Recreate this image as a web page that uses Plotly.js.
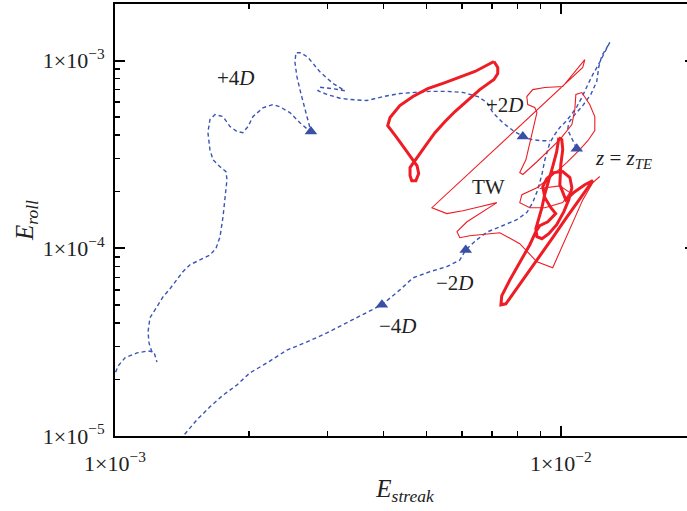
<!DOCTYPE html>
<html><head><meta charset="utf-8">
<script src="https://cdn.plot.ly/plotly-3.0.1.min.js"></script>
<style>html,body{margin:0;padding:0;overflow:hidden;background:#fff}#chart{width:700px;height:511px}</style>
</head><body><div id="chart"></div>
<script>
// Blue dashed trajectory: short hook at far left
const blueHookX = [9.9e-4, 1.016e-3, 1.053e-3, 1.12e-3, 1.186e-3, 1.223e-3, 1.242e-3];
const blueHookY = [2.02e-5, 2.36e-5, 2.61e-5, 2.77e-5, 2.84e-5, 2.80e-5, 2.48e-5];
// Blue dashed trajectory: left wander -> +4D -> +2D
const blueUpperX = [1.21e-3, 1.192e-3, 1.186e-3, 1.198e-3, 1.242e-3, 1.281e-3, 1.328e-3, 1.377e-3, 1.42e-3, 1.473e-3, 1.551e-3, 1.633e-3, 1.685e-3, 1.72e-3, 1.747e-3, 1.765e-3, 1.783e-3, 1.774e-3, 1.72e-3, 1.659e-3, 1.633e-3, 1.616e-3, 1.633e-3, 1.676e-3, 1.747e-3, 1.811e-3, 1.877e-3, 1.936e-3, 1.988e-3, 2.04e-3, 2.147e-3, 2.262e-3, 2.344e-3, 2.468e-3, 2.599e-3, 2.723e-3, 2.751e-3, 2.695e-3, 2.64e-3, 2.599e-3, 2.559e-3, 2.533e-3, 2.546e-3, 2.612e-3, 2.709e-3, 2.882e-3, 3.082e-3, 3.28e-3, 3.082e-3, 2.882e-3, 2.853e-3, 2.987e-3, 3.196e-3, 3.364e-3, 3.673e-3, 3.99e-3, 4.355e-3, 4.706e-3, 5.086e-3, 5.55e-3, 6.03e-3, 6.52e-3, 6.83e-3, 7.04e-3, 7.41e-3, 7.81e-3, 8.22e-3, 8.61e-3, 9.07e-3, 9.45e-3];
const blueUpperY = [2.80e-5, 3.13e-5, 3.59e-5, 4.27e-5, 4.88e-5, 5.5e-5, 6.08e-5, 6.8e-5, 7.5e-5, 8.17e-5, 8.65e-5, 9.2e-5, 1.0e-4, 1.15e-4, 1.47e-4, 1.81e-4, 2.32e-4, 2.56e-4, 2.72e-4, 2.96e-4, 3.35e-4, 4.14e-4, 4.85e-4, 5.15e-4, 5.03e-4, 4.45e-4, 4.19e-4, 4.13e-4, 4.45e-4, 5.03e-4, 5.6e-4, 5.83e-4, 5.67e-4, 5.28e-4, 4.66e-4, 4.24e-4, 4.19e-4, 5.03e-4, 5.98e-4, 7.0e-4, 8.2e-4, 9.8e-4, 1.10e-3, 1.10e-3, 1.04e-3, 8.7e-4, 7.55e-4, 6.9e-4, 7.08e-4, 7.2e-4, 6.9e-4, 6.6e-4, 6.3e-4, 6.2e-4, 6.12e-4, 6.42e-4, 6.67e-4, 6.76e-4, 6.85e-4, 6.85e-4, 6.76e-4, 6.42e-4, 5.98e-4, 5.28e-4, 4.66e-4, 4.24e-4, 3.94e-4, 3.79e-4, 3.74e-4, 3.74e-4];
// Blue dashed trajectory: bottom -> -4D -> -2D -> top right -> z = z_TE
const blueMainX = [1.406e-3, 1.435e-3, 1.527e-3, 1.633e-3, 1.747e-3, 1.877e-3, 2.008e-3, 2.192e-3, 2.431e-3, 2.695e-3, 2.987e-3, 3.313e-3, 3.673e-3, 3.97e-3, 4.355e-3, 4.66e-3, 5.086e-3, 5.55e-3, 5.935e-3, 6.12e-3, 6.48e-3, 6.83e-3, 7.30e-3, 7.97e-3, 8.39e-3, 8.65e-3, 8.88e-3, 9.07e-3, 9.21e-3, 9.45e-3, 9.69e-3, 9.95e-3, 1.026e-2, 1.053e-2, 1.086e-2, 1.115e-2, 1.15e-2, 1.18e-2, 1.223e-2, 1.255e-2, 1.288e-2, 1.268e-2, 1.236e-2, 1.217e-2, 1.204e-2, 1.168e-2, 1.12e-2, 1.075e-2, 1.042e-2, 1.036e-2, 1.059e-2, 1.086e-2];
const blueMainY = [9.5e-6, 1.025e-5, 1.22e-5, 1.43e-5, 1.65e-5, 1.87e-5, 2.17e-5, 2.45e-5, 2.87e-5, 3.17e-5, 3.54e-5, 4.0e-5, 4.53e-5, 5.0e-5, 6.0e-5, 6.96e-5, 7.5e-5, 7.98e-5, 8.65e-5, 9.8e-5, 1.11e-4, 1.22e-4, 1.30e-4, 1.42e-4, 1.55e-4, 1.75e-4, 2.05e-4, 2.47e-4, 2.96e-4, 3.65e-4, 4.03e-4, 4.4e-4, 4.73e-4, 5.1e-4, 5.67e-4, 6.36e-4, 7.45e-4, 8.43e-4, 9.8e-4, 1.117e-3, 1.25e-3, 1.17e-3, 1.06e-3, 9.27e-4, 7.73e-4, 6.6e-4, 5.75e-4, 5.15e-4, 4.67e-4, 4.28e-4, 3.84e-4, 3.39e-4];
// Stations marked with triangles
const stationX = [2.751e-3, 8.22e-3, 1.086e-2, 6.12e-3, 3.97e-3];
const stationY = [4.19e-4, 3.94e-4, 3.39e-4, 9.8e-5, 5.0e-5];
// Red thick loop (upper left)
const redThickAX = [7.08e-3, 7.22e-3, 7.22e-3, 7.08e-3, 6.58e-3, 6.16e-3, 5.79e-3, 5.50e-3, 5.22e-3, 5.01e-3, 4.83e-3, 4.68e-3, 4.59e-3, 4.59e-3, 4.63e-3, 4.73e-3, 4.80e-3, 4.76e-3, 4.61e-3, 4.45e-3, 4.27e-3, 4.09e-3, 4.14e-3, 4.355e-3, 4.66e-3, 5.03e-3, 5.50e-3, 5.935e-3, 6.42e-3, 7.08e-3];
const redThickAY = [9.88e-4, 9.18e-4, 8.53e-4, 7.92e-4, 7.0e-4, 6.12e-4, 5.35e-4, 4.73e-4, 4.13e-4, 3.61e-4, 3.19e-4, 2.89e-4, 2.69e-4, 2.44e-4, 2.29e-4, 2.29e-4, 2.50e-4, 2.75e-4, 3.04e-4, 3.44e-4, 3.93e-4, 4.5e-4, 4.97e-4, 5.75e-4, 6.43e-4, 7.09e-4, 7.63e-4, 8.12e-4, 8.74e-4, 9.88e-4];
// Red thick loop (lower right)
const redThickBX = [9.90e-3, 9.79e-3, 9.59e-3, 9.40e-3, 9.21e-3, 9.07e-3, 8.93e-3, 8.79e-3, 8.84e-3, 9.07e-3, 9.40e-3, 9.79e-3, 1.016e-2, 1.042e-2, 1.059e-2, 1.048e-2, 1.010e-2, 9.64e-3, 9.30e-3, 9.11e-3, 9.21e-3, 9.50e-3, 9.74e-3, 9.35e-3, 8.97e-3, 8.79e-3, 8.52e-3, 8.09e-3, 7.69e-3, 7.37e-3, 7.34e-3, 7.53e-3, 7.93e-3, 8.43e-3, 8.97e-3, 9.59e-3, 1.026e-2, 1.092e-2, 1.15e-2, 1.18e-2, 1.132e-2, 1.075e-2, 1.026e-2, 9.95e-3, 1.0e-2, 1.010e-2, 1.005e-2, 9.90e-3];
const redThickBY = [3.88e-4, 3.27e-4, 2.72e-4, 2.32e-4, 1.95e-4, 1.644e-4, 1.42e-4, 1.27e-4, 1.152e-4, 1.124e-4, 1.195e-4, 1.335e-4, 1.566e-4, 1.81e-4, 2.10e-4, 2.38e-4, 2.56e-4, 2.53e-4, 2.35e-4, 2.13e-4, 1.86e-4, 1.644e-4, 1.53e-4, 1.384e-4, 1.318e-4, 1.225e-4, 1.044e-4, 8.47e-5, 6.79e-5, 5.58e-5, 5.0e-5, 5.06e-5, 6.0e-5, 7.40e-5, 9.12e-5, 1.138e-4, 1.437e-4, 1.77e-4, 2.10e-4, 2.29e-4, 2.18e-4, 2.0e-4, 1.81e-4, 2.18e-4, 2.79e-4, 3.35e-4, 3.79e-4, 3.88e-4];
// Red thin line (TW)
const redThinX = [1.223e-2, 1.18e-2, 1.12e-2, 1.059e-2, 1.005e-2, 9.59e-3, 8.84e-3, 8.09e-3, 7.30e-3, 6.25e-3, 5.935e-3, 5.85e-3, 6.16e-3, 7.19e-3, 6.58e-3, 6.03e-3, 5.55e-3, 5.14e-3, 1.12e-2, 1.132e-2, 1.010e-2, 9.21e-3, 8.65e-3, 8.39e-3, 8.43e-3, 8.74e-3, 8.84e-3, 8.61e-3, 8.35e-3, 8.09e-3, 8.22e-3, 8.84e-3, 9.45e-3, 9.95e-3, 1.059e-2, 1.075e-2, 1.081e-2, 1.115e-2, 1.161e-2, 1.192e-2, 1.192e-2, 1.15e-2, 1.103e-2, 1.031e-2, 9.45e-3, 8.84e-3, 8.18e-3, 8.09e-3, 8.52e-3, 9.21e-3, 1.010e-2, 1.048e-2, 9.95e-3, 8.97e-3];
const redThinY = [2.41e-4, 2.24e-4, 1.81e-4, 1.335e-4, 1.006e-4, 7.87e-5, 8.47e-5, 1.057e-4, 1.21e-4, 1.166e-4, 1.138e-4, 1.225e-4, 1.384e-4, 1.75e-4, 1.665e-4, 1.585e-4, 1.53e-4, 1.644e-4, 9.18e-4, 1.012e-3, 7.27e-4, 7.18e-4, 7.0e-4, 6.43e-4, 5.83e-4, 5.62e-4, 5.28e-4, 4.03e-4, 2.96e-4, 2.53e-4, 2.47e-4, 2.89e-4, 3.35e-4, 3.79e-4, 4.56e-4, 5.48e-4, 6.59e-4, 6.75e-4, 5.83e-4, 5.03e-4, 4.23e-4, 3.74e-4, 3.35e-4, 2.86e-4, 2.38e-4, 2.10e-4, 1.93e-4, 1.75e-4, 1.644e-4, 1.644e-4, 1.75e-4, 1.98e-4, 2.15e-4, 2.08e-4];
// Ticks
const xTickVals = [1e-3, 1e-2];
const xTickText = ['1\u00d710<sup>\u22123</sup>', '1\u00d710<sup>\u22122</sup>'];
const xMinorVals = [2e-3, 3e-3, 4e-3, 5e-3, 6e-3, 7e-3, 8e-3, 9e-3, 2e-2];
const yTickVals = [1e-5, 1e-4, 1e-3];
const yTickText = ['1\u00d710<sup>\u22125</sup>', '1\u00d710<sup>\u22124</sup>', '1\u00d710<sup>\u22123</sup>'];
const yMinorVals = [2e-5, 3e-5, 4e-5, 5e-5, 6e-5, 7e-5, 8e-5, 9e-5, 2e-4, 3e-4, 4e-4, 5e-4, 6e-4, 7e-4, 8e-4, 9e-4, 2e-3];
// Labels
const labelText = ['+4<i>D</i>', '+2<i>D</i>', '<i>z</i> = <i>z</i><sub><i>TE</i></sub>', 'TW', '\u22122<i>D</i>', '\u22124<i>D</i>'];
const labelX = [1.87e-3, 7.5e-3, 1.18e-2, 6.9e-3, 5.8e-3, 4.31e-3];
const labelY = [8.1e-4, 5.8e-4, 3.0e-4, 2.13e-4, 6.5e-5, 3.85e-5];

const BLUE = '#3a55b4', RED = '#ee1c24', SERIF = 'Liberation Serif, Times New Roman, serif';
const blueLine = {color: BLUE, width: 1.4, dash: '4px,3px'};
const traces = [
  {x: blueHookX, y: blueHookY, mode: 'lines', line: blueLine},
  {x: blueUpperX, y: blueUpperY, mode: 'lines', line: blueLine},
  {x: blueMainX, y: blueMainY, mode: 'lines', line: blueLine},
  {x: redThinX, y: redThinY, mode: 'lines', line: {color: RED, width: 1.1}},
  {x: redThickAX, y: redThickAY, mode: 'lines', line: {color: RED, width: 3}},
  {x: redThickBX, y: redThickBY, mode: 'lines', line: {color: RED, width: 3}},
  {x: stationX, y: stationY, mode: 'markers', marker: {symbol: 'triangle-up', size: 11, color: '#3a4fa6'}}
];
const axisCommon = {
  type: 'log', showgrid: false, zeroline: false, showline: true, linewidth: 2, linecolor: '#000',
  mirror: 'ticks', ticks: 'inside', ticklen: 10, tickwidth: 2, tickcolor: '#000', tickmode: 'array',
  tickfont: {family: SERIF, size: 22, color: '#222'},
  minor: {ticks: 'inside', ticklen: 5, tickwidth: 1.5, tickcolor: '#000', showgrid: false, tickmode: 'array'}
};
const layout = {
  width: 700, height: 511, showlegend: false,
  margin: {l: 115, r: 5, t: 4, b: 75},
  paper_bgcolor: '#fff', plot_bgcolor: '#fff',
  xaxis: Object.assign({}, axisCommon, {
    range: [-3, Math.log10(0.02)], tickvals: xTickVals, ticktext: xTickText, ticklabelstandoff: 7,
    minor: Object.assign({}, axisCommon.minor, {tickvals: xMinorVals}),
    title: {text: '<i>E</i><sub><i>streak</i></sub>', font: {family: SERIF, size: 25, color: '#222'}, standoff: 4}
  }),
  yaxis: Object.assign({}, axisCommon, {
    range: [-5, Math.log10(0.002)], tickvals: yTickVals, ticktext: yTickText, ticklabelstandoff: 4,
    minor: Object.assign({}, axisCommon.minor, {tickvals: yMinorVals}),
    title: {text: '<i>E</i><sub><i>roll</i></sub>', font: {family: SERIF, size: 25, color: '#222'}, standoff: 2}
  }),
  annotations: labelText.map((t, i) => ({
    x: Math.log10(labelX[i]), y: Math.log10(labelY[i]), xref: 'x', yref: 'y', text: t,
    showarrow: false, xanchor: i === 2 ? 'left' : 'center', yanchor: 'middle',
    font: {family: SERIF, size: 21, color: '#222'}
  }))
};
Plotly.newPlot('chart', traces, layout, {staticPlot: true, displayModeBar: false});
</script></body></html>
